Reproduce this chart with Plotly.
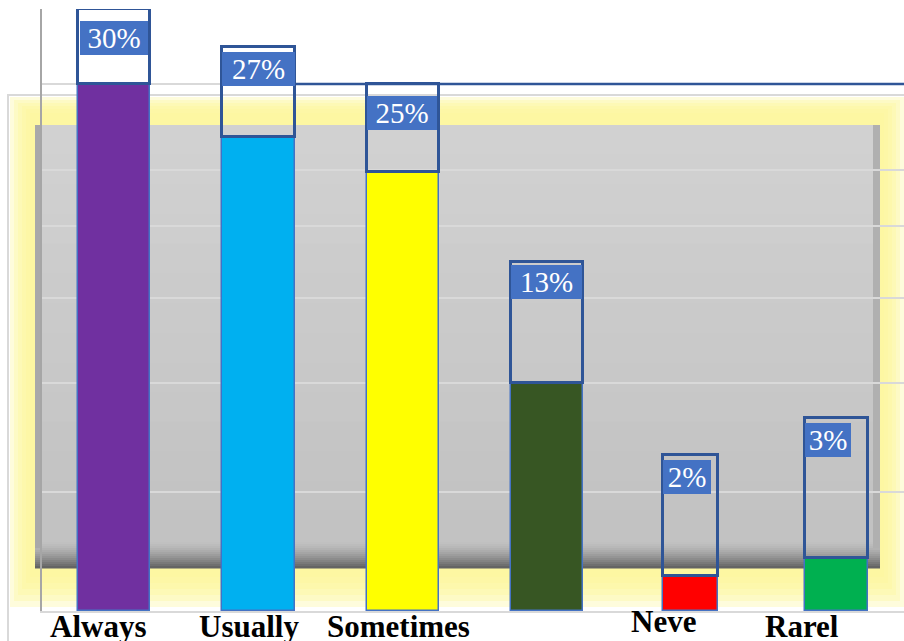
import plotly.graph_objects as go

# ---- data ----
categories = ["Always", "Usually", "Sometimes", "", "Neve", "Rarel"]
values = [30, 27, 25, 13, 2, 3]
labels = ["30%", "27%", "25%", "13%", "2%", "3%"]

# ---- styles ----
bar_colors = ["#7030A0", "#00B0F0", "#FFFF00", "#375623", "#FF0000", "#00B050"]
bar_widths = [0.501, 0.508, 0.501, 0.501, 0.383, 0.438]
bar_offsets = [-0.249, -0.247, -0.238, -0.235, -0.177, -0.189]
box_heights = [4.27, 5.1, 5.0, 6.86, 6.88, 7.98]
lab_widths = [68, 73, 70, 71, 48, 46]
lab_xshift = [0, 1, 1, 2, -2, -4]
lab_inset = [12, 5, 12, 3, 5, 5]
cat_xshift = [-16, -9, -3, 0, -25, -30]
cat_yshift = [0, 0, 0, 0, 5, 0]

W, H = 904, 641
PL, PT, PB = 42, 9, 611          # plot area in window pixels (left, top, bottom)
L, R, T, B = PL, 0, PT, H - PB
PW, PH = W - L - R, H - T - B
YMAX = 34.27

def px(x):
    return (x - PL) / PW

def py(y):
    return (PB - y) / PH

def rect(x0, y0, x1, y1, fill, line_color=None, line_width=0, opacity=1.0, layer="below"):
    return dict(type="rect", xref="paper", yref="paper",
                x0=px(x0), x1=px(x1), y0=py(y1), y1=py(y0),
                fillcolor=fill, opacity=opacity, layer=layer,
                line=dict(width=line_width, color=line_color or "rgba(0,0,0,0)"))

def mix(c1, c2, t):
    return "rgb(%d,%d,%d)" % tuple(round(a + (b - a) * t) for a, b in zip(c1, c2))

shapes = []
# outer frame
shapes.append(rect(8, 95, 912, 660, "white", "#D9D9D9", 2))
# yellow glow
yel = "#FBF59B"
glow = [(10, 97, 904, 607), (14, 100, 900, 601), (18, 103, 896, 595),
        (22, 106, 892, 589), (26, 109, 888, 583), (30, 113, 884, 577)]
for g in glow:
    shapes.append(rect(*g, yel, opacity=0.35))
# gray inner panel with gradient
top_c, mid_c = (209, 209, 209), (194, 194, 194)
n = 14
y_a, y_b = 125, 540
for i in range(n):
    y0 = y_a + (y_b - y_a) * i / n
    y1 = y_a + (y_b - y_a) * (i + 1) / n + 1
    shapes.append(rect(35, y0, 880, y1, mix(top_c, mid_c, i / (n - 1))))
dark_c = (100, 100, 100)
m = 14
for i in range(m):
    y0 = 540 + 28 * i / m
    y1 = 540 + 28 * (i + 1) / m + 0.5
    shapes.append(rect(35, y0, 880, y1, mix(mid_c, dark_c, (i / (m - 1)) ** 1.5)))
# side darker strips
shapes.append(rect(35, 125, 42, 548, "#A9A9A9"))
shapes.append(rect(873, 125, 880, 548, "#B0B0B0"))
# dark blue artifact line
shapes.append(dict(type="line", xref="paper", yref="paper", x0=px(295), x1=px(904),
                   y0=py(84), y1=py(84), line=dict(color="#2F5597", width=2.5), layer="above"))

x_idx = list(range(len(categories)))

fig = go.Figure()
fig.add_trace(go.Bar(
    x=x_idx, y=values, width=bar_widths, offset=bar_offsets,
    marker=dict(color=bar_colors, line=dict(color="#4472C4", width=1.5)),
    hoverinfo="skip", showlegend=False))
fig.add_trace(go.Bar(
    x=x_idx, y=box_heights, base=values, width=bar_widths, offset=bar_offsets,
    marker=dict(color="rgba(0,0,0,0)", line=dict(color="#2F5597", width=3)),
    hoverinfo="skip", showlegend=False))

annotations = []
for i, (v, bh, lab) in enumerate(zip(values, box_heights, labels)):
    annotations.append(dict(
        x=i, y=v + bh, xref="x", yref="y", text=lab, showarrow=False,
        xanchor="center", yanchor="top", xshift=lab_xshift[i], yshift=-lab_inset[i],
        width=lab_widths[i], height=34, bgcolor="#4472C4", borderpad=0, borderwidth=0,
        font=dict(family="Liberation Serif", size=29, color="white")))
for i, c in enumerate(categories):
    if not c:
        continue
    annotations.append(dict(
        x=i, y=0, xref="x", yref="paper", text="<b>%s</b>" % c, showarrow=False,
        xanchor="center", yanchor="top", xshift=cat_xshift[i], yshift=cat_yshift[i] + 4,
        font=dict(family="Liberation Serif", size=31, color="black")))

fig.update_layout(
    width=W, height=H,
    margin=dict(l=L, r=R, t=T, b=B, pad=0),
    paper_bgcolor="white", plot_bgcolor="rgba(0,0,0,0)",
    barmode="overlay", bargap=0,
    shapes=shapes, annotations=annotations,
    xaxis=dict(range=[-0.5, 5.5], showticklabels=False, showgrid=False, zeroline=False,
               showline=True, linecolor="#D9D9D9", linewidth=2, fixedrange=True),
    yaxis=dict(range=[0, YMAX], tickvals=[6.8, 13, 17.8, 21.9, 25.1, 30, YMAX],
               showticklabels=False, showgrid=True, gridcolor="#D9D9D9", gridwidth=2,
               zeroline=False, showline=True, linecolor="#A6A6A6", linewidth=2,
               fixedrange=True),
)

fig.write_html("out.html", config={"displayModeBar": False},
               post_script="document.body.style.margin='0';document.body.style.overflow='hidden';")
